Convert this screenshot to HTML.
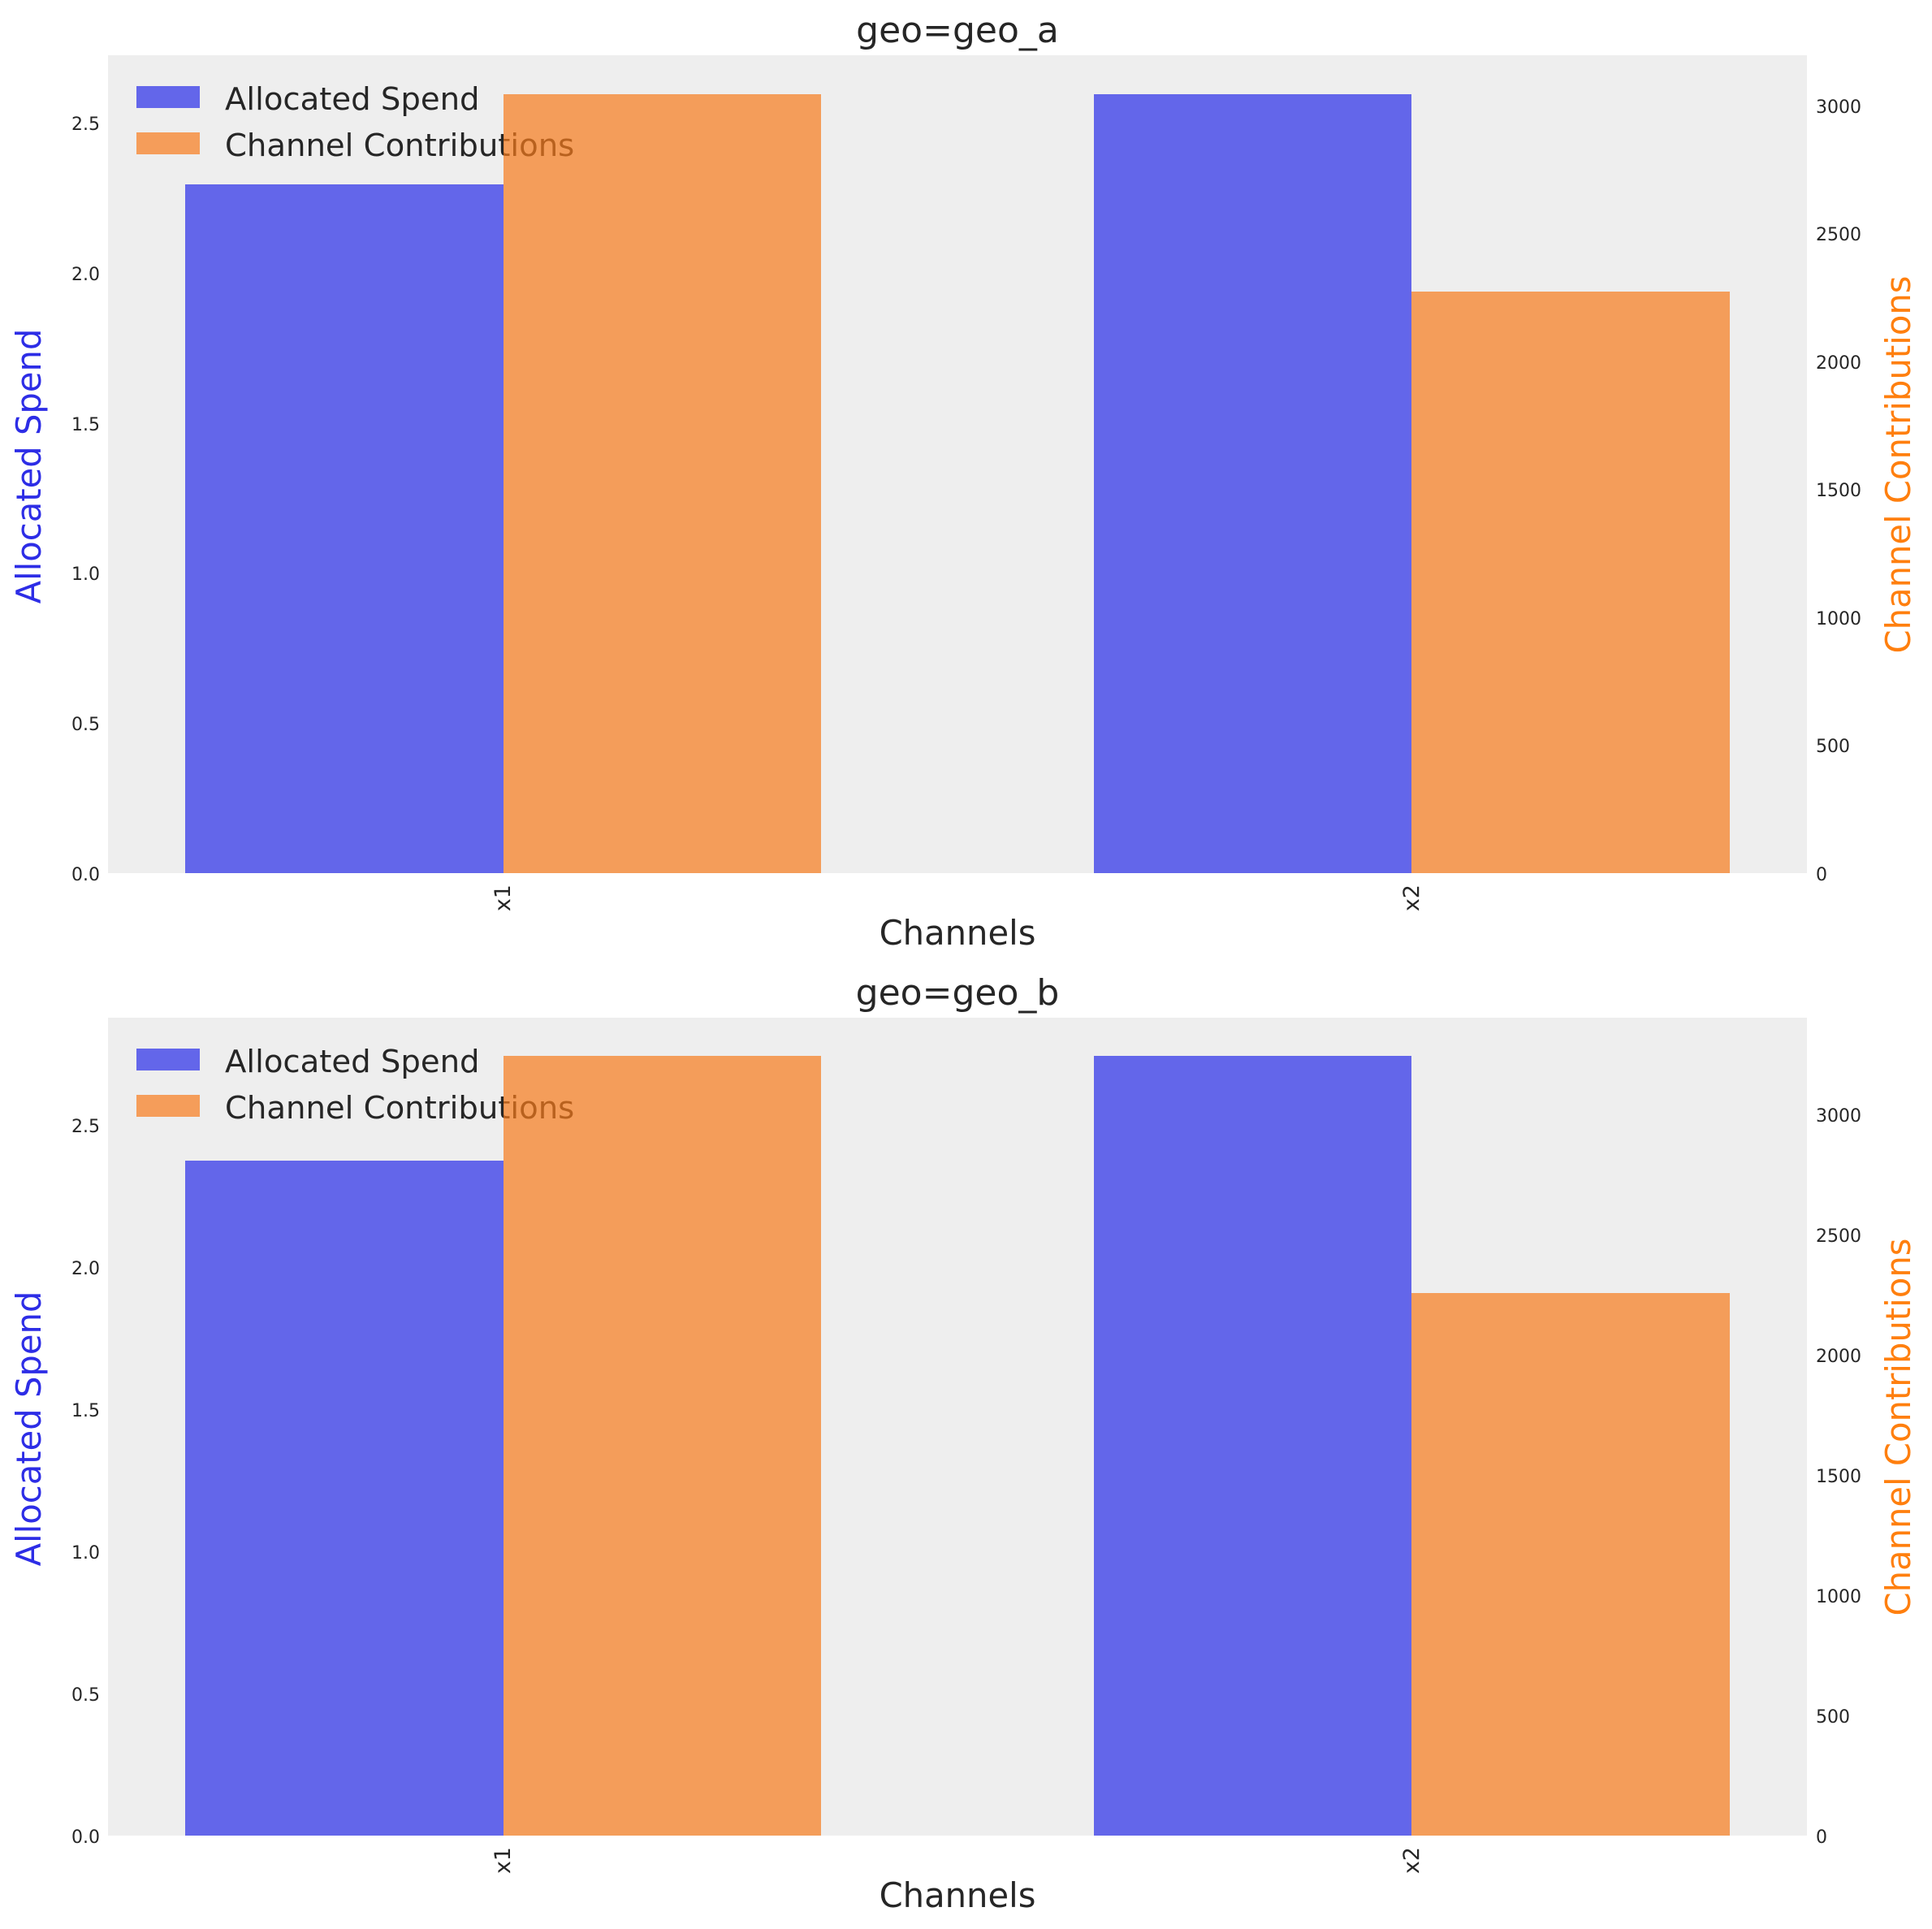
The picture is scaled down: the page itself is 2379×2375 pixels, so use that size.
<!DOCTYPE html>
<html>
<head>
<meta charset="utf-8">
<style>
html,body{margin:0;padding:0;background:#ffffff;}
svg{display:block;}
text{font-family:"DejaVu Sans","Liberation Sans",sans-serif;fill:#262626;}
</style>
</head>
<body>
<svg width="2379" height="2375" viewBox="0 0 2379 2375" xmlns="http://www.w3.org/2000/svg">
<rect x="0" y="0" width="2379" height="2375" fill="#ffffff"/>

<!-- ===== TOP SUBPLOT ===== -->
<rect x="133" y="68" width="2092" height="1007" fill="#eeeeee"/>
<!-- blue bars -->
<rect x="228" y="227" width="392" height="848" fill="#6366ea"/>
<rect x="1347" y="116" width="391" height="959" fill="#6366ea"/>
<!-- legend -->
<rect x="168" y="106" width="78" height="27" fill="#6366ea"/>
<rect x="168" y="163" width="78" height="27" fill="#f59d5a"/>
<text x="277" y="135" font-size="38.6">Allocated Spend</text>
<text x="277" y="192" font-size="38.6">Channel Contributions</text>
<!-- orange bars (twin axis, drawn over legend) -->
<rect x="620" y="116" width="391" height="959" fill="rgb(247,122,27)" fill-opacity="0.7"/>
<rect x="1738" y="359" width="392" height="716" fill="rgb(247,122,27)" fill-opacity="0.7"/>

<!-- left ticks -->
<g font-size="22" text-anchor="end">
<text x="123" y="1084">0.0</text>
<text x="123" y="899">0.5</text>
<text x="123" y="714">1.0</text>
<text x="123" y="530">1.5</text>
<text x="123" y="345">2.0</text>
<text x="123" y="160">2.5</text>
</g>
<!-- right ticks -->
<g font-size="22" text-anchor="start">
<text x="2236" y="1084">0</text>
<text x="2236" y="926">500</text>
<text x="2236" y="769">1000</text>
<text x="2236" y="611">1500</text>
<text x="2236" y="454">2000</text>
<text x="2236" y="296">2500</text>
<text x="2236" y="139">3000</text>
</g>
<!-- x tick labels -->
<text font-size="27" text-anchor="end" transform="translate(628,1089) rotate(-90)">x1</text>
<text font-size="27" text-anchor="end" transform="translate(1747,1089) rotate(-90)">x2</text>
<!-- labels -->
<text x="1179" y="1163" font-size="41.7" text-anchor="middle">Channels</text>
<text x="1179" y="52" font-size="44" text-anchor="middle">geo=geo_a</text>
<text font-size="41.7" text-anchor="middle" transform="translate(50,574) rotate(-90)" style="fill:#2d2de6">Allocated Spend</text>
<text font-size="41.7" text-anchor="middle" transform="translate(2352,572) rotate(-90)" style="fill:#ff7f0e">Channel Contributions</text>

<!-- ===== BOTTOM SUBPLOT ===== -->
<rect x="133" y="1253" width="2092" height="1007" fill="#eeeeee"/>
<!-- blue bars -->
<rect x="228" y="1429" width="392" height="831" fill="#6366ea"/>
<rect x="1347" y="1300" width="391" height="960" fill="#6366ea"/>
<!-- legend -->
<rect x="168" y="1291" width="78" height="27" fill="#6366ea"/>
<rect x="168" y="1348" width="78" height="27" fill="#f59d5a"/>
<text x="277" y="1320" font-size="38.6">Allocated Spend</text>
<text x="277" y="1377" font-size="38.6">Channel Contributions</text>
<!-- orange bars -->
<rect x="620" y="1300" width="391" height="960" fill="rgb(247,122,27)" fill-opacity="0.7"/>
<rect x="1738" y="1592" width="392" height="668" fill="rgb(247,122,27)" fill-opacity="0.7"/>

<!-- left ticks -->
<g font-size="22" text-anchor="end">
<text x="123" y="2269">0.0</text>
<text x="123" y="2094">0.5</text>
<text x="123" y="1919">1.0</text>
<text x="123" y="1744">1.5</text>
<text x="123" y="1569">2.0</text>
<text x="123" y="1394">2.5</text>
</g>
<!-- right ticks -->
<g font-size="22" text-anchor="start">
<text x="2236" y="2269">0</text>
<text x="2236" y="2121">500</text>
<text x="2236" y="1973">1000</text>
<text x="2236" y="1825">1500</text>
<text x="2236" y="1677">2000</text>
<text x="2236" y="1529">2500</text>
<text x="2236" y="1381">3000</text>
</g>
<!-- x tick labels -->
<text font-size="27" text-anchor="end" transform="translate(628,2274) rotate(-90)">x1</text>
<text font-size="27" text-anchor="end" transform="translate(1747,2274) rotate(-90)">x2</text>
<!-- labels -->
<text x="1179" y="2348" font-size="41.7" text-anchor="middle">Channels</text>
<text x="1179" y="1237" font-size="44" text-anchor="middle">geo=geo_b</text>
<text font-size="41.7" text-anchor="middle" transform="translate(50,1759) rotate(-90)" style="fill:#2d2de6">Allocated Spend</text>
<text font-size="41.7" text-anchor="middle" transform="translate(2352,1757) rotate(-90)" style="fill:#ff7f0e">Channel Contributions</text>
</svg>
</body>
</html>
